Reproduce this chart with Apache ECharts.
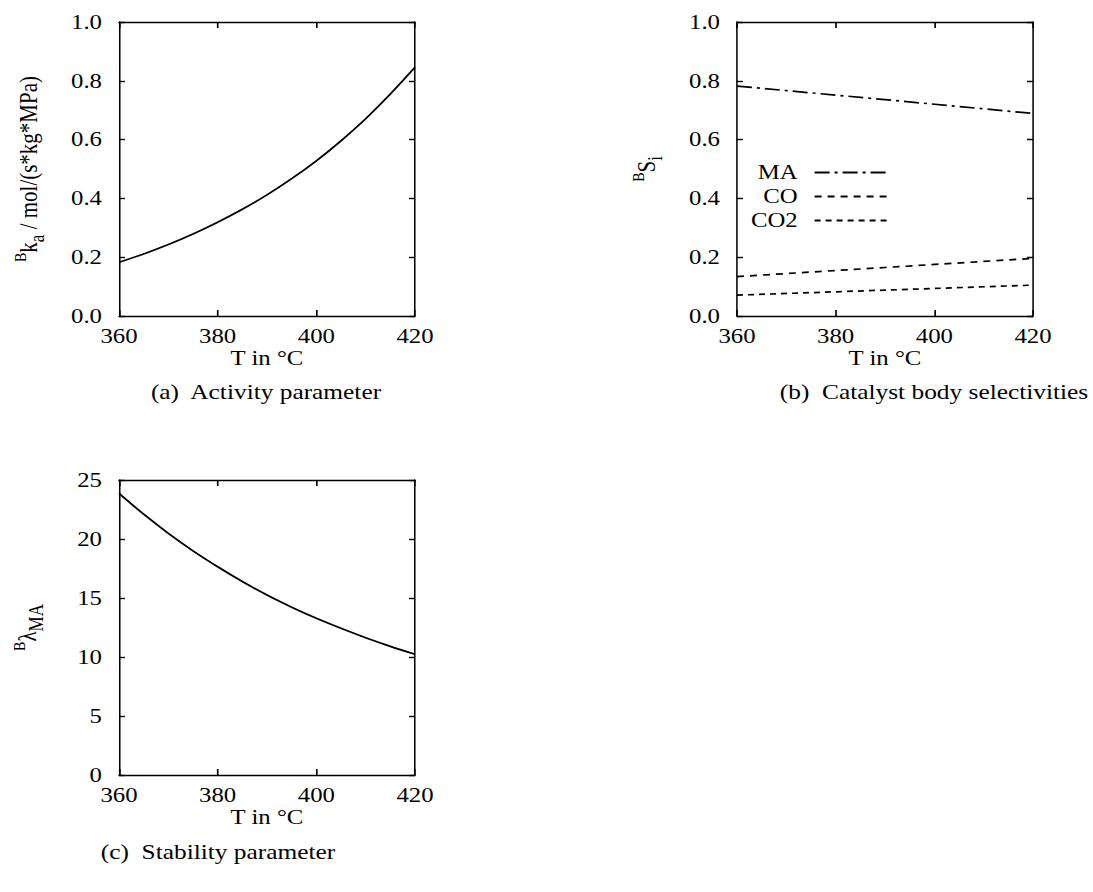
<!DOCTYPE html>
<html>
<head>
<meta charset="utf-8">
<script src="https://cdn.jsdelivr.net/npm/echarts@6/dist/echarts.min.js"></script>
<style>
html,body{margin:0;padding:0;background:#fff;overflow:hidden;}
#c{width:926px;height:892px;transform:scaleX(1.18);transform-origin:0 0;}
</style>
</head>
<body>
<div id="c"></div>
<script>
// ---- data ----
const tempsA = [360, 365, 370, 375, 380, 385, 390, 395, 400, 405, 410, 415, 420];
const kaValues = [0.183, 0.211, 0.243, 0.279, 0.319, 0.363, 0.412, 0.467, 0.528, 0.596, 0.671, 0.755, 0.846];
const tempsB = [360, 390, 420];
const selMA = [0.782, 0.736, 0.689];
const selCO = [0.134, 0.165, 0.196];
const selCO2 = [0.071, 0.088, 0.105];
const tempsC = [360, 365, 370, 375, 380, 385, 390, 395, 400, 405, 410, 415, 420];
const lambdaMA = [23.87, 22.1, 20.48, 19.0, 17.65, 16.4, 15.25, 14.22, 13.28, 12.43, 11.63, 10.9, 10.23];
const xTicks = [360, 380, 400, 420];
const yTicksAB = [0.0, 0.2, 0.4, 0.6, 0.8, 1.0];
const yTicksC = [0, 5, 10, 15, 20, 25];
const captions = ['(a)  Activity parameter', '(b)  Catalyst body selectivities', '(c)  Stability parameter'];

const K = 1.18;              // horizontal stretch of the whole figure
const sx = v => v / K;       // page x -> chart x
const FONT = 'Liberation Serif';
const FS = 21;
const pair = (xs, ys) => xs.map((x, i) => [x, ys[i]]);

const grids = [
  {left: sx(119), top: 22, width: sx(296), height: 294},
  {left: sx(737), top: 22, width: sx(296), height: 294},
  {left: sx(119), top: 480, width: sx(296), height: 295}
];

function tick(len) {
  return {show: true, inside: true, length: len, lineStyle: {color: '#000', width: 1.4}};
}

function xAxes(gi) {
  const common = {
    type: 'value', gridIndex: gi, min: xTicks[0], max: xTicks[xTicks.length - 1], interval: 20,
    splitLine: {show: false}
  };
  return [
    Object.assign({}, common, {
      position: 'bottom',
      axisLine: {show: true, onZero: false, lineStyle: {color: '#000', width: 1.3}},
      axisTick: tick(6),
      name: 'T in °C', nameLocation: 'middle', nameGap: 27,
      nameTextStyle: {fontFamily: FONT, fontSize: FS, color: '#000'},
      axisLabel: {fontFamily: FONT, fontSize: FS, color: '#000', margin: 10}
    }),
    Object.assign({}, common, {
      position: 'top',
      axisLine: {show: true, onZero: false, lineStyle: {color: '#000', width: 1.3}},
      axisTick: tick(6),
      axisLabel: {show: false}
    })
  ];
}

function yAxes(gi, ticks, interval, fmt, name, rich, gap) {
  const common = {
    type: 'value', gridIndex: gi, min: ticks[0], max: ticks[ticks.length - 1], interval: interval,
    splitLine: {show: false}
  };
  return [
    Object.assign({}, common, {
      position: 'left',
      axisLine: {show: true, onZero: false, lineStyle: {color: '#000', width: 1.3}},
      axisTick: tick(sx(6)),
      name: name, nameLocation: 'middle', nameGap: sx(gap), nameRotate: 90,
      nameTextStyle: {fontFamily: FONT, fontSize: FS, color: '#000', rich: rich},
      axisLabel: {fontFamily: FONT, fontSize: FS, color: '#000', margin: sx(17), formatter: fmt}
    }),
    Object.assign({}, common, {
      position: 'right',
      axisLine: {show: true, onZero: false, lineStyle: {color: '#000', width: 1.3}},
      axisTick: tick(sx(6)),
      axisLabel: {show: false}
    })
  ];
}

const richCommon = {
  sup: {fontFamily: FONT, fontSize: 14, color: '#000', verticalAlign: 'top', lineHeight: 12},
  main: {fontFamily: FONT, fontSize: FS, color: '#000', lineHeight: 30},
  sub: {fontFamily: FONT, fontSize: 17, color: '#000', verticalAlign: 'bottom', lineHeight: 14}
};

const fmt1 = v => v.toFixed(1);
const fmt0 = v => String(Math.round(v));

const xs = [].concat(xAxes(0), xAxes(1), xAxes(2));
const ys = [].concat(
  yAxes(0, yTicksAB, 0.2, fmt1, '{sup|B}{main|k}{sub|a}{main| / mol/(s*kg*MPa)}', richCommon, 72),
  yAxes(1, yTicksAB, 0.2, fmt1, '{sup|B}{main|S}{sub|i}', richCommon, 72),
  yAxes(2, yTicksC, 5, fmt0, '{sup|B}{main|λ}{sub|MA}', richCommon, 73)
);

const solid = {color: '#000', width: 1.7, type: 'solid'};

function legendFor(name, top) {
  return {
    data: [name], right: sx(196), top: top, align: 'right',
    itemWidth: sx(75), itemHeight: 14, selectedMode: false,
    itemStyle: {opacity: 0, borderWidth: 0},
    textStyle: {fontFamily: FONT, fontSize: FS, color: '#000', padding: [0, sx(11), 0, 0]}
  };
}

const option = {
  backgroundColor: '#fff',
  animation: false,
  textStyle: {fontFamily: FONT},
  grid: grids,
  xAxis: xs,
  yAxis: ys,
  legend: [legendFor('MA', 157), legendFor('CO', 181), legendFor('CO2', 205)],
  series: [
    {type: 'line', name: 'ka', xAxisIndex: 0, yAxisIndex: 0, data: pair(tempsA, kaValues),
     smooth: 0.3, showSymbol: false, symbol: 'none', lineStyle: solid},
    {type: 'line', name: 'MA', xAxisIndex: 2, yAxisIndex: 2, data: pair(tempsB, selMA),
     showSymbol: false, symbol: 'none', itemStyle: {color: '#000'},
     lineStyle: {color: '#000', width: 1.7, type: [sx(15), sx(5), sx(3), sx(5)]}},
    {type: 'line', name: 'CO', xAxisIndex: 2, yAxisIndex: 2, data: pair(tempsB, selCO),
     showSymbol: false, symbol: 'none', itemStyle: {color: '#000'},
     lineStyle: {color: '#000', width: 1.7, type: [sx(7), sx(6)]}},
    {type: 'line', name: 'CO2', xAxisIndex: 2, yAxisIndex: 2, data: pair(tempsB, selCO2),
     showSymbol: false, symbol: 'none', itemStyle: {color: '#000'},
     lineStyle: {color: '#000', width: 1.7, type: [sx(6), sx(5)]}},
    {type: 'line', name: 'lambda', xAxisIndex: 4, yAxisIndex: 4, data: pair(tempsC, lambdaMA),
     smooth: 0.3, showSymbol: false, symbol: 'none', lineStyle: solid}
  ],
  graphic: [
    {type: 'text', style: {text: captions[0], fontFamily: FONT, fontSize: 21.5, fill: '#000', x: sx(266), y: 392, align: 'center', verticalAlign: 'middle'}},
    {type: 'text', style: {text: captions[1], fontFamily: FONT, fontSize: 21.5, fill: '#000', x: sx(934), y: 392, align: 'center', verticalAlign: 'middle'}},
    {type: 'text', style: {text: captions[2], fontFamily: FONT, fontSize: 21.5, fill: '#000', x: sx(218), y: 852, align: 'center', verticalAlign: 'middle'}}
  ]
};

const chart = echarts.init(document.getElementById('c'), null, {renderer: 'svg'});
chart.setOption(option);
</script>
</body>
</html>
